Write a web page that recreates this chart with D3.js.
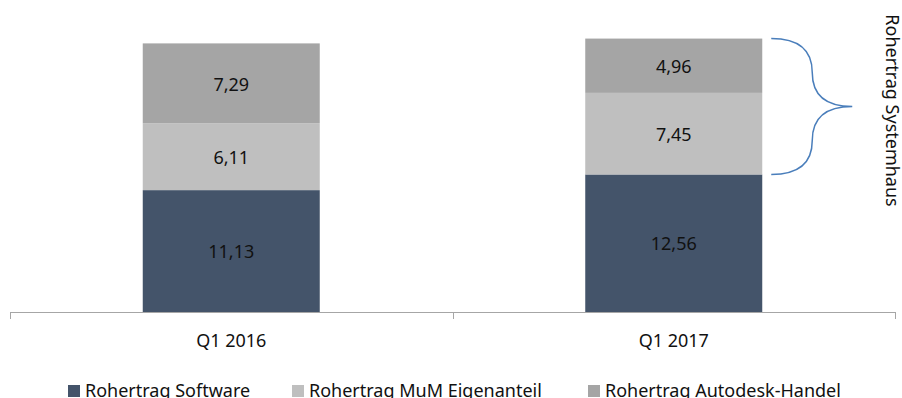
<!DOCTYPE html>
<html>
<head>
<meta charset="utf-8">
<script src="https://cdn.jsdelivr.net/npm/d3@7/dist/d3.min.js"></script>
<style>
  html, body { margin: 0; padding: 0; background: #fff; }
  svg { display: block; font-family: "Noto Sans", "Open Sans", sans-serif; }
</style>
</head>
<body>
<svg id="chart" width="902" height="398"></svg>
<script>
// Quarterly gross profit (Rohertrag), in million EUR
const categories = ["Q1 2016", "Q1 2017"];
const seriesNames = ["Rohertrag Software", "Rohertrag MuM Eigenanteil", "Rohertrag Autodesk-Handel"];
const software = [11.13, 12.56];
const mumEigenanteil = [6.11, 7.45];
const autodeskHandel = [7.29, 4.96];
const seriesColors = ["#44546a", "#bfbfbf", "#a5a5a5"];
const braceLabel = "Rohertrag Systemhaus";

const fmt = v => v.toFixed(2).replace(".", ",");

const svg = d3.select("#chart");

const x = d3.scaleBand()
  .domain(categories)
  .range([10, 895])
  .paddingInner(0.6)
  .paddingOuter(0.3);

const y = d3.scaleLinear()
  .domain([0, 28])
  .range([312, 5.4]);

const rows = categories.map((c, i) => ({
  cat: c,
  [seriesNames[0]]: software[i],
  [seriesNames[1]]: mumEigenanteil[i],
  [seriesNames[2]]: autodeskHandel[i]
}));

const stacked = d3.stack().keys(seriesNames)(rows);

// stacked bars
const layers = svg.append("g").selectAll("g")
  .data(stacked)
  .join("g")
  .attr("fill", (d, i) => seriesColors[i]);

layers.selectAll("rect")
  .data(d => d)
  .join("rect")
  .attr("x", d => x(d.data.cat))
  .attr("width", x.bandwidth())
  .attr("y", d => y(d[1]))
  .attr("height", d => y(d[0]) - y(d[1]));

// value labels inside segments
layers.selectAll("text")
  .data(d => d.map(s => ({ s, key: d.key })))
  .join("text")
  .attr("x", d => x(d.s.data.cat) + x.bandwidth() / 2)
  .attr("y", d => (y(d.s[0]) + y(d.s[1])) / 2)
  .attr("dy", "0.4em")
  .attr("text-anchor", "middle")
  .attr("fill", "#111")
  .attr("font-size", 18)
  .text(d => fmt(d.s.data[d.key]));

// category axis with tick marks between categories
const [r0, r1] = x.range();
const boundaries = d3.range(categories.length + 1).map(i => r0 + i * x.step() * (r1 - r0) / (x.step() * categories.length));
const axis = svg.append("g").attr("stroke", "#a6a6a6").attr("stroke-width", 1);
axis.append("line")
  .attr("x1", r0).attr("x2", r1)
  .attr("y1", y(0) + 0.5).attr("y2", y(0) + 0.5);
axis.selectAll("line.tick")
  .data(boundaries)
  .join("line")
  .attr("class", "tick")
  .attr("x1", d => Math.round(d) + 0.5).attr("x2", d => Math.round(d) + 0.5)
  .attr("y1", y(0)).attr("y2", y(0) + 7);

svg.append("g").selectAll("text")
  .data(categories)
  .join("text")
  .attr("x", d => x(d) + x.bandwidth() / 2)
  .attr("y", 347)
  .attr("text-anchor", "middle")
  .attr("fill", "#111")
  .attr("font-size", 18)
  .text(d => d);

// brace grouping the two Systemhaus segments of the latest quarter
const last = stacked[0].length - 1;
const yTop = y(stacked[2][last][1]);
const yBot = y(stacked[1][last][0]);
const bx = x(categories[last]) + x.bandwidth() + 9;
const mid = (yTop + yBot) / 2;
const bw = 41, tip = 81;
const bracePath = d3.path();
bracePath.moveTo(bx, yTop);
bracePath.quadraticCurveTo(bx + bw, yTop, bx + bw, yTop + (mid - yTop) * 0.5);
bracePath.quadraticCurveTo(bx + bw, mid, bx + tip, mid);
bracePath.quadraticCurveTo(bx + bw, mid, bx + bw, yBot - (yBot - mid) * 0.5);
bracePath.quadraticCurveTo(bx + bw, yBot, bx, yBot);
svg.append("path")
  .attr("d", bracePath.toString())
  .attr("fill", "none")
  .attr("stroke", "#4a7ebb")
  .attr("stroke-width", 1.5);

svg.append("text")
  .attr("transform", `translate(886, ${mid + 4}) rotate(90)`)
  .attr("text-anchor", "middle")
  .attr("fill", "#111")
  .attr("font-size", 18)
  .text(braceLabel);

// legend
const legendX = [68, 292, 588];
const legend = svg.append("g").selectAll("g")
  .data(seriesNames)
  .join("g")
  .attr("transform", (d, i) => `translate(${legendX[i]}, 385)`);
legend.append("rect")
  .attr("width", 12).attr("height", 12)
  .attr("fill", (d, i) => seriesColors[i]);
legend.append("text")
  .attr("x", 17)
  .attr("y", 12)
  .attr("fill", "#111")
  .attr("font-size", 18)
  .text(d => d);
</script>
</body>
</html>
